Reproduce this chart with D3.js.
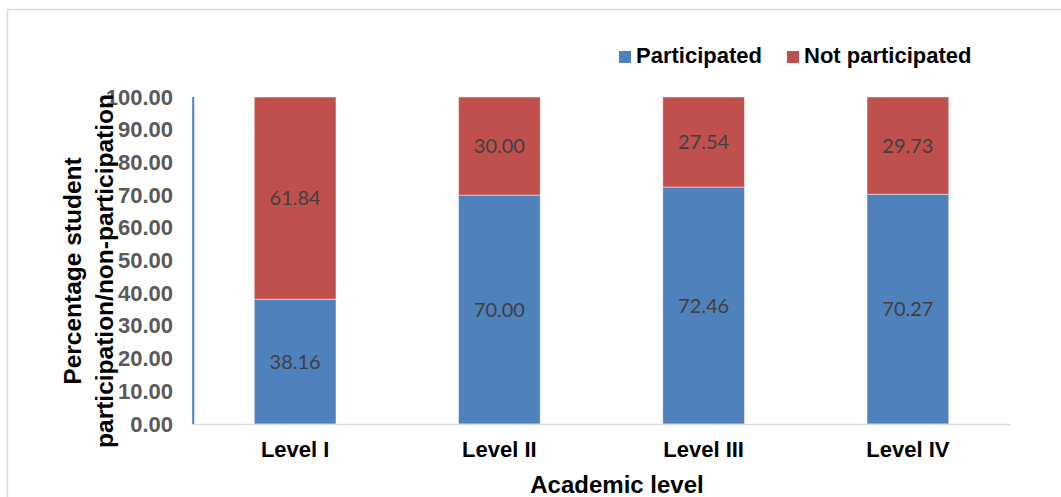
<!DOCTYPE html>
<html><head><meta charset="utf-8">
<script src="https://cdn.jsdelivr.net/npm/d3@7"></script>
<style>body{margin:0;background:#fff}svg{display:block}</style>
</head><body>
<svg id="c" width="1061" height="497"></svg>
<script>
const categories = ["Level I", "Level II", "Level III", "Level IV"];
const participated = [38.16, 70.00, 72.46, 70.27];
const notParticipated = [61.84, 30.00, 27.54, 29.73];
const seriesNames = ["Participated", "Not participated"];
const seriesColors = ["#4f81bd", "#c0504d"];
const yTicks = [0, 10, 20, 30, 40, 50, 60, 70, 80, 90, 100];

const svg = d3.select("#c");
const m = {left: 193, right: 1010, top: 97, bottom: 424};

// chart border
svg.append("rect").attr("x", 7.5).attr("y", 9.5).attr("width", 1100).attr("height", 600)
  .attr("fill", "#fff").attr("stroke", "#d9d9d9").attr("stroke-width", 1.5);

const x = d3.scaleBand().domain(categories).range([m.left, m.right]).paddingInner(0.6).paddingOuter(0.3);
const y = d3.scaleLinear().domain([0, 100]).range([m.bottom, m.top]);

const rows = categories.map((c, i) => ({cat: c, Participated: participated[i], "Not participated": notParticipated[i]}));
const stack = d3.stack().keys(seriesNames)(rows);

const g = svg.append("g");
stack.forEach((s, si) => {
  g.selectAll(null).data(s).enter().append("rect")
    .attr("x", d => x(d.data.cat))
    .attr("width", x.bandwidth())
    .attr("y", d => y(d[1]))
    .attr("height", d => y(d[0]) - y(d[1]))
    .attr("fill", seriesColors[si])
    .attr("stroke", "rgba(255,255,255,0.45)").attr("stroke-width", 1);
});
// data labels
stack.forEach((s, si) => {
  g.selectAll(null).data(s).enter().append("text")
    .attr("x", d => x(d.data.cat) + x.bandwidth() / 2)
    .attr("y", d => y((d[0] + d[1]) / 2))
    .attr("dy", "0.36em")
    .attr("text-anchor", "middle")
    .attr("font-family", "Lato, 'Open Sans', sans-serif")
    .attr("font-size", 20)
    .attr("fill", "#404040")
    .text(d => (d[1] - d[0]).toFixed(2));
});

// y axis
const yAxis = svg.append("g").attr("transform", `translate(${m.left},0)`)
  .call(d3.axisLeft(y).tickValues(yTicks).tickFormat(d => d.toFixed(2)).tickSize(0).tickPadding(20));
yAxis.select(".domain").attr("stroke", "#4f81bd").attr("stroke-width", 1.5);
yAxis.selectAll("text").attr("font-family", "'Liberation Sans', Arial, sans-serif")
  .attr("font-size", 22).attr("font-weight", "bold").attr("fill", "#595959");

// x axis
const xAxis = svg.append("g").attr("transform", `translate(0,${m.bottom})`)
  .call(d3.axisBottom(x).tickSize(0).tickPadding(17));
xAxis.select(".domain").attr("stroke", "#d9d9d9").attr("stroke-width", 1.5);
xAxis.selectAll("text").attr("font-family", "'Liberation Sans', Arial, sans-serif")
  .attr("font-size", 22).attr("font-weight", "bold").attr("fill", "#000");
svg.append("line").attr("x1", m.left).attr("x2", m.left).attr("y1", m.top).attr("y2", m.bottom)
  .attr("stroke", "#4f81bd").attr("stroke-width", 1.5);

// axis titles
svg.append("text").attr("x", 617).attr("y", 493).attr("text-anchor", "middle")
  .attr("font-family", "'Liberation Sans', Arial, sans-serif").attr("font-size", 24).attr("font-weight", "bold")
  .attr("fill", "#000").text("Academic level");

const yt = svg.append("text").attr("transform", "translate(0,271) rotate(-90)")
  .attr("text-anchor", "middle")
  .attr("font-family", "'Liberation Sans', Arial, sans-serif").attr("font-size", 24.5).attr("font-weight", "bold")
  .attr("fill", "#000");
yt.append("tspan").attr("x", 0).attr("y", 81).text("Percentage student");
yt.append("tspan").attr("x", 0).attr("y", 113).text("participation/non-participation");

// legend
const legendX = [619, 787];
seriesNames.forEach((n, i) => {
  svg.append("rect").attr("x", legendX[i]).attr("y", 51).attr("width", 12).attr("height", 12).attr("fill", seriesColors[i]);
  svg.append("text").attr("x", legendX[i] + 17).attr("y", 63)
    .attr("font-family", "'Liberation Sans', Arial, sans-serif").attr("font-size", 22).attr("font-weight", "bold")
    .attr("fill", "#000").text(n);
});
</script>
</body></html>
